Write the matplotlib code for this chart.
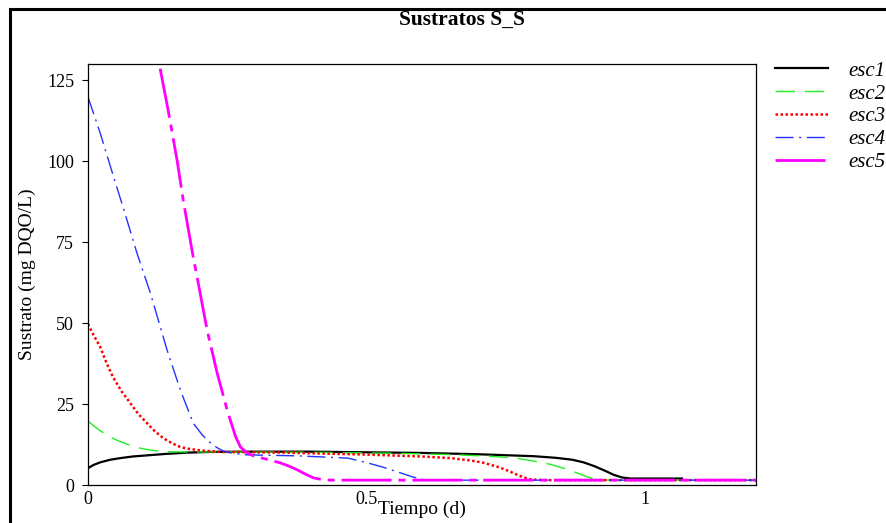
import matplotlib
matplotlib.use("Agg")
from matplotlib import pyplot as plt
from matplotlib.patches import Rectangle

# valores (tiempo en d, sustrato en mg DQO/L)
t_esc1 = [0, 0.01, 0.022, 0.04, 0.058, 0.08, 0.11, 0.14, 0.178, 0.22, 0.28, 0.4, 0.5, 0.6, 0.7, 0.8,
          0.84, 0.87, 0.89, 0.91, 0.93, 0.945, 0.96, 0.975, 1.067]
s_esc1 = [5.2, 6.2, 7.0, 7.8, 8.3, 8.8, 9.2, 9.6, 10.0, 10.2, 10.3, 10.3, 10.1, 9.9, 9.5, 8.9,
          8.4, 7.8, 7.0, 5.8, 4.3, 3.1, 2.3, 2.0, 2.0]

t_esc2 = [0, 0.01, 0.02, 0.03, 0.04, 0.055, 0.07, 0.085, 0.105, 0.124, 0.145, 0.166, 0.25, 0.4, 0.55, 0.65,
          0.72, 0.77, 0.8, 0.83, 0.86, 0.88, 0.9, 0.92, 0.94, 1.2]
s_esc2 = [19.8, 18.3, 17.0, 15.8, 14.8, 13.6, 12.6, 11.7, 11.0, 10.5, 10.3, 10.2, 10.2, 10.1, 9.8, 9.4,
          8.9, 8.3, 7.4, 6.4, 4.9, 3.6, 2.3, 1.6, 1.5, 1.5]

t_esc3 = [0, 0.01, 0.022, 0.033, 0.045, 0.06, 0.076, 0.09, 0.106, 0.12, 0.135, 0.15, 0.166, 0.18, 0.196,
          0.22, 0.243, 0.35, 0.5, 0.6, 0.652, 0.69, 0.712, 0.74, 0.76, 0.78, 0.796, 0.82, 1.2]
s_esc3 = [49.7, 46.3, 42.6, 37.8, 33.3, 29.0, 25.3, 22.0, 19.1, 16.6, 14.5, 13.0, 11.7, 11.2, 10.8,
          10.4, 10.2, 10.0, 9.4, 8.8, 8.3, 7.5, 6.8, 5.4, 4.0, 2.5, 1.7, 1.5, 1.5]

t_esc4 = [0, 0.022, 0.045, 0.063, 0.088, 0.112, 0.142, 0.166, 0.189, 0.205, 0.22, 0.232, 0.243, 0.26, 0.286,
          0.377, 0.467, 0.503, 0.53, 0.562, 0.585, 0.604, 0.62, 1.2]
s_esc4 = [119.8, 108.6, 95.7, 85.8, 71.6, 59.3, 41.7, 29.3, 19.1, 15.5, 13.0, 11.5, 10.5, 9.8, 9.3,
          9.0, 8.3, 6.8, 5.5, 3.7, 2.4, 1.6, 1.5, 1.5]

t_esc5 = [0, 0.06, 0.1, 0.128, 0.144, 0.16, 0.171, 0.189, 0.196, 0.214, 0.232, 0.25, 0.265, 0.274, 0.285,
          0.297, 0.32, 0.346, 0.36, 0.377, 0.39, 0.405, 0.42, 0.436, 1.2]
s_esc5 = [255, 195, 156, 130, 115.7, 100.3, 88.0, 70.4, 64.2, 47.8, 34.6, 23.1, 15.0, 11.7, 10.0,
          9.0, 8.0, 6.8, 5.9, 4.6, 3.4, 2.2, 1.7, 1.5, 1.5]

etiquetas = ["esc1", "esc2", "esc3", "esc4", "esc5"]
x_ticks = [0, 0.5, 1]
x_tick_labels = ["0", "0.5", "1"]
y_ticks = [0, 25, 50, 75, 100, 125]

plt.rcParams['font.family'] = ['Liberation Serif', 'DejaVu Serif']

fig = plt.figure(figsize=(8.87, 5.23), dpi=100)
W, H = 887, 523
ax = fig.add_axes([88 / W, 1 - 485 / H, (756 - 88) / W, (485 - 64) / H])

ax.plot(t_esc1, s_esc1, color='black', lw=1.6, ls='-', label=etiquetas[0])
ax.plot(t_esc2, s_esc2, color='#22ee22', lw=1.0, ls=(0, (14, 7)), label=etiquetas[1])
ax.plot(t_esc3, s_esc3, color='red', lw=1.8, ls=(0, (1, 1)), label=etiquetas[2])
ax.plot(t_esc4, s_esc4, color='#2233ff', lw=1.0, ls=(0, (13, 4, 1.5, 4)), label=etiquetas[3])
ax.plot(t_esc5, s_esc5, color='magenta', lw=2.0, ls=(0, (18, 2.5, 2.5, 2.5)), label=etiquetas[4])

ax.set_xlim(0, 1.2)
ax.set_ylim(0, 130)
ax.set_xticks(x_ticks)
ax.set_xticklabels(x_tick_labels)
ax.set_yticks(y_ticks)
ax.tick_params(axis='x', length=0, pad=4, labelsize=13)
ax.tick_params(axis='y', length=4, width=0.8, pad=6, labelsize=13)
for sp in ax.spines.values():
    sp.set_linewidth(0.9)

ax.set_xlabel("Tiempo (d)", fontsize=14, labelpad=-5)
ax.set_ylabel("Sustrato (mg DQO/L)", fontsize=14, labelpad=8)
fig.text(462 / W, 1 - 20 / H, "Sustratos S_S", ha='center', va='center',
         fontsize=15.5, fontweight='bold')

leg = ax.legend(loc='upper left', bbox_to_anchor=(775 / W, 1 - 61 / H),
                bbox_transform=fig.transFigure, frameon=False,
                prop={'style': 'italic', 'size': 15}, handlelength=2.55,
                handletextpad=0.95, labelspacing=0.16, borderaxespad=0, borderpad=0)

# marco de la figura
fig.patches.append(Rectangle((10 / W, -0.1), 1.2, 1 - 9 / H + 0.1,
                             transform=fig.transFigure, fill=False,
                             edgecolor='black', lw=2.2))

fig.savefig("out.png", dpi=100)
